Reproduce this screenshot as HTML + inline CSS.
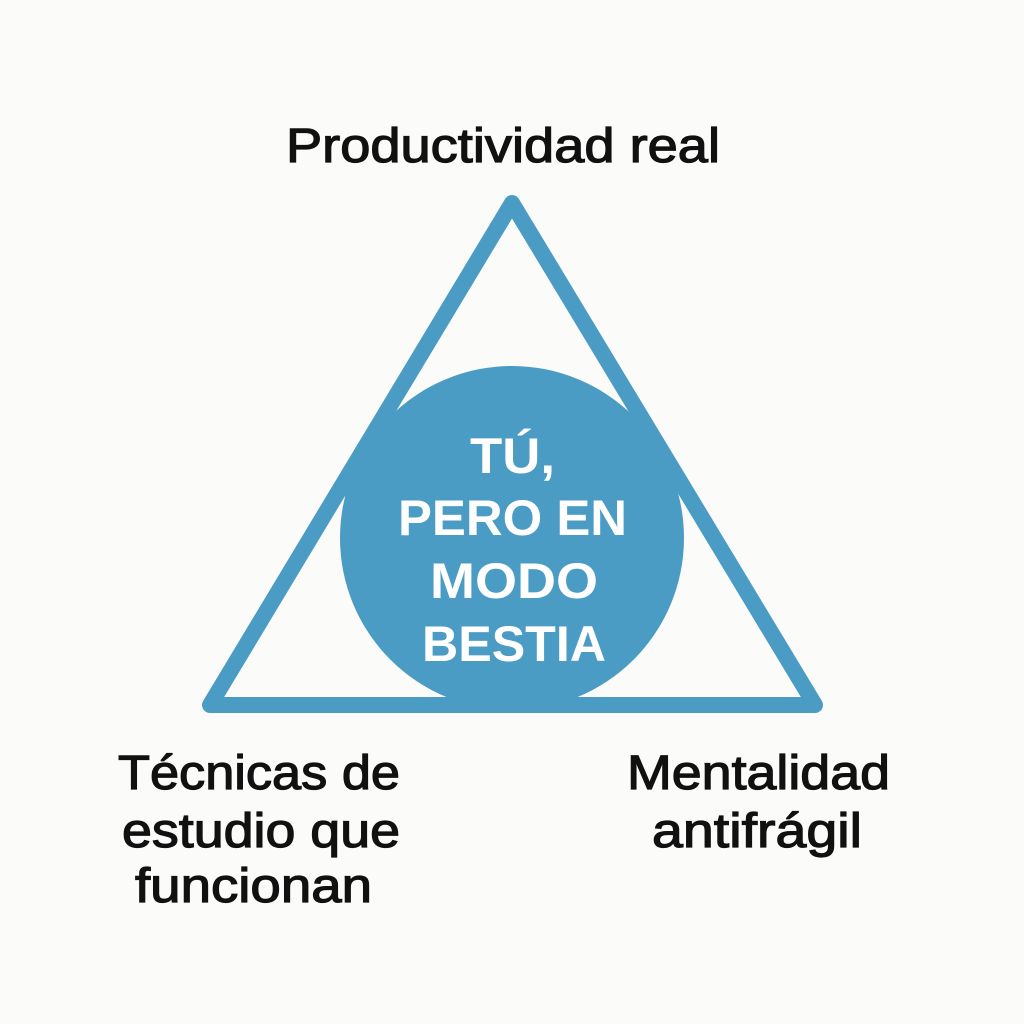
<!DOCTYPE html>
<html>
<head>
<meta charset="utf-8">
<style>
html,body{margin:0;padding:0;background:#fbfbf9;}
svg{display:block;}
</style>
</head>
<body>
<svg width="1024" height="1024" viewBox="0 0 1024 1024" xmlns="http://www.w3.org/2000/svg">
<rect width="1024" height="1024" fill="#fbfbf9"/>
<circle cx="512" cy="538" r="172" fill="#4a9cc4"/>
<polygon points="512,203 210,705 815,705" fill="none" stroke="#4a9cc4" stroke-width="16" stroke-linejoin="round"/>
<g font-family="Liberation Sans, sans-serif" font-size="48" fill="#111" stroke="#111" stroke-width="1.2" lengthAdjust="spacingAndGlyphs">
<text x="286" y="162" textLength="434" lengthAdjust="spacingAndGlyphs">Productividad real</text>
<text x="118" y="789" textLength="282" lengthAdjust="spacingAndGlyphs">Técnicas de</text>
<text x="122" y="847" textLength="278" lengthAdjust="spacingAndGlyphs">estudio que</text>
<text x="135" y="902" textLength="237" lengthAdjust="spacingAndGlyphs">funcionan</text>
<text x="627" y="789" textLength="263" lengthAdjust="spacingAndGlyphs">Mentalidad</text>
<text x="652" y="847" textLength="210" lengthAdjust="spacingAndGlyphs">antifrágil</text>
</g>
<g font-family="Liberation Sans, sans-serif" font-size="50" font-weight="bold" fill="#ffffff">
<text x="470" y="473" textLength="85" lengthAdjust="spacingAndGlyphs">TÚ,</text>
<text x="398" y="535" textLength="229" lengthAdjust="spacingAndGlyphs">PERO EN</text>
<text x="430" y="598" textLength="168" lengthAdjust="spacingAndGlyphs">MODO</text>
<text x="422" y="661" textLength="184" lengthAdjust="spacingAndGlyphs">BESTIA</text>
</g>
</svg>
</body>
</html>
